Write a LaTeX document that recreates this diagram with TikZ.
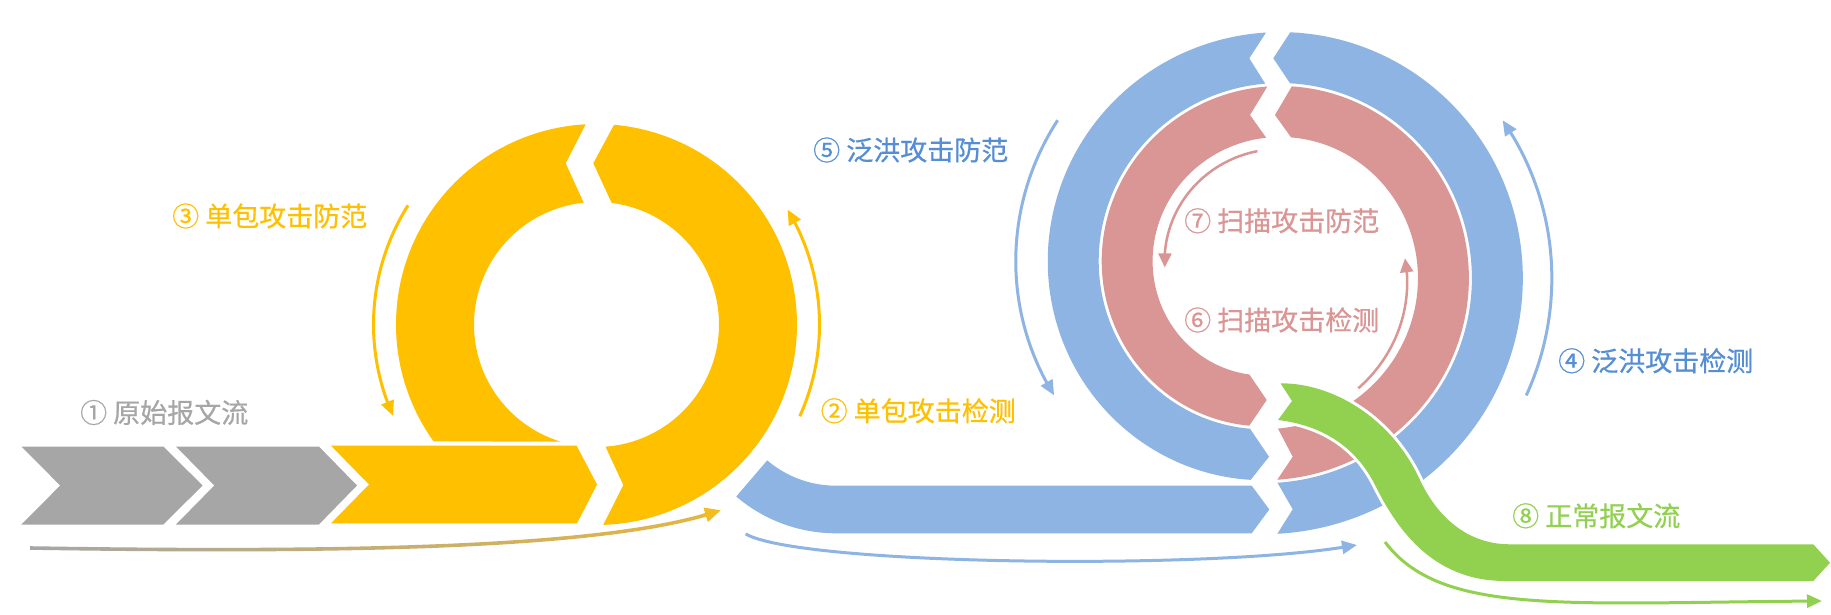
\documentclass[tikz,border=0pt]{standalone}
\usepackage{fontspec}
\newfontfamily\cjk{Noto Sans CJK SC}[FakeBold=0.6]
\usetikzlibrary{arrows.meta}
\definecolor{cgray}{HTML}{A6A6A6}
\definecolor{cyel}{HTML}{FFC000}
\definecolor{cblue}{HTML}{8EB4E3}
\definecolor{cbluetxt}{HTML}{558ED5}
\definecolor{cpink}{HTML}{D99694}
\definecolor{cgreen}{HTML}{92D050}
\definecolor{cgold}{HTML}{E3B640}
\definecolor{cmid}{HTML}{BFB08A}
\definecolor{ctip}{HTML}{F4BC1C}
% spiral: phi measured from bottom, counterclockwise on screen
\pgfmathdeclarefunction{spx}{2}{\pgfmathparse{1271.8+(264.4-0.15*(#1)+(#2))*sin(#1)}}
\pgfmathdeclarefunction{spy}{2}{\pgfmathparse{269.65+(264.4-0.15*(#1)+(#2))*cos(#1)}}
\tikzset{
  spl/.style={samples=120,domain=0:1,variable=\t},
  lab/.style={anchor=west,inner sep=0pt,font=\cjk\fontsize{27}{30}\selectfont},
  arr/.style={line width=3pt,-{Triangle[length=15pt,width=13pt]}},
  arrp/.style={line width=2.5pt,-{Triangle[length=14pt,width=13pt]}}
}
\begin{document}
\begin{tikzpicture}[x=1pt,y=-1pt]
\useasboundingbox (0,0) rectangle (1831,615);
\fill[white] (0,0) rectangle (1831,615);

% ---- gray chevrons and yellow bar
\fill[cgray] (21.4,446.5) -- (163.3,446.5) -- (202.6,485.5) -- (163.3,524.5) -- (21.4,524.5) -- (60.2,485.5) -- cycle;
\fill[cgray] (176,446.5) -- (318.9,446.5) -- (357,485.5) -- (318.9,524.5) -- (176,524.5) -- (214.3,485.5) -- cycle;
\fill[cyel] (331,445.7) -- (576.6,445.7) -- (597,484.5) -- (577,523.3) -- (331,523.3) -- (369,484.5) -- cycle;

% ---- yellow ring
\fill[cyel] plot[spl] ({596.5+200.5*cos(88.06-173.26*\t)},{324.5+200.5*sin(88.06-173.26*\t)})
  -- (593.3,163.3)
  -- plot[spl] ({596.5+122.5*cos(-82.9+168.9*\t)},{324.5+122.5*sin(-82.9+168.9*\t)})
  -- (623.3,485) -- cycle;
\fill[cyel] plot[spl] ({596.5+200.5*cos(-93.1-122.7*\t)},{324.5+200.5*sin(-93.1-122.7*\t)})
  -- plot[spl] ({596.5+122.5*cos(-253.1+157.3*\t)},{324.5+122.5*sin(-253.1+157.3*\t)})
  -- (565.7,163.3) -- cycle;

% ---- blue bar
\fill[cblue] plot[spl] ({836+153.6*cos(130.5-40.5*\t)},{379.7+153.6*sin(130.5-40.5*\t)})
  -- (1251.7,533.3) -- (1269.3,509.5) -- (1251.7,485.7)
  -- plot[spl] ({836+106*cos(90+40.5*\t)},{379.7+106*sin(90+40.5*\t)}) -- cycle;

% ---- blue spiral
\fill[cblue] plot[spl] ({spx(1.2+174.6*\t,0)},{spy(1.2+174.6*\t,0)})
  -- (1273.3,58.3)
  -- plot[spl] ({spx(174.4-173.1*\t,-51)},{spy(174.4-173.1*\t,-51)})
  -- (1292.7,509.3) -- cycle;
\fill[cblue] plot[spl] ({spx(181.4+173.1*\t,0)},{spy(181.4+173.1*\t,0)})
  -- (1269,456.7)
  -- plot[spl] ({spx(352.2-170.4*\t,-51)},{spy(352.2-170.4*\t,-51)})
  -- (1249.3,58.3) -- cycle;

% ---- pink spiral
\fill[cpink] plot[spl] ({spx(361.5+172.5*\t,0)},{spy(361.5+172.5*\t,0)})
  -- (1275,115)
  -- plot[spl] ({spx(531.7-169.7*\t,-51)},{spy(531.7-169.7*\t,-51)})
  -- (1292.7,456.7) -- cycle;
\fill[cpink] plot[spl] ({spx(541.4+170.6*\t,0)},{spy(541.4+170.6*\t,0)})
  -- (1266.7,400)
  -- plot[spl] ({spx(707.9-165.7*\t,-51)},{spy(707.9-165.7*\t,-51)})
  -- (1250,115) -- cycle;

% ---- green flow
\fill[cgreen,preaction={draw=white,line width=6pt,line join=round}]
  (1280.5,383.3) .. controls (1330,383) and (1390,415) .. (1420,480)
  .. controls (1434,510) and (1462,544.3) .. (1510,544.3)
  -- (1813.3,544.3) -- (1830,562.7) -- (1813.3,581) -- (1505,581)
  .. controls (1430,581) and (1395,525) .. (1375,485)
  .. controls (1355,445) and (1320,425) .. (1278,420)
  -- (1292,401) -- cycle;

% ---- thin arrows
\shade[left color=cgray,middle color=cmid,right color=cgold]
  (30,546.2) .. controls (350,551.2) and (600,546.2) .. (711.5,511.3)
  -- (712.5,514.7) .. controls (600,549.8) and (350,554.8) .. (30,549.8) -- cycle;
\draw[ctip,line width=3.5pt,-{Triangle[length=16pt,width=14pt]}] (703,515.6) -- (721,510.2);

\draw[cblue,arr] (745.7,534) .. controls (800,565) and (1200,570) .. (1357,545);
\draw[cgreen,arr] (1385,542) .. controls (1440,615) and (1560,603) .. (1822,601);

\draw[cyel,arr] plot[spl] ({596.5+223*cos(212.3-52.3*\t)},{324.5+223*sin(212.3-52.3*\t)})
  -- ({596.5+223*cos(155.8)},{324.5+223*sin(155.8)});
\draw[cyel,arr] plot[spl] ({596.5+223*cos(24.3-51.2*\t)},{324.5+223*sin(24.3-51.2*\t)})
  -- ({596.5+223*cos(-31)},{324.5+223*sin(-31)});

\draw[cblue,arr] plot[spl] ({spx(235.1+60.9*\t,32)},{spy(235.1+60.9*\t,32)})
  -- ({spx(300,32)},{spy(300,32)});
\draw[cblue,arr] plot[spl] ({spx(63.7+55.2*\t,29)},{spy(63.7+55.2*\t,29)})
  -- ({spx(122.9,29)},{spy(122.9,29)});

\draw[cpink,arrp] plot[spl] ({spx(546.9+73.6*\t,-63)},{spy(546.9+73.6*\t,-63)})
  -- ({spx(628.8,-63)},{spy(628.8,-63)});
\draw[cpink,arrp] plot[spl] ({1271.8+(146.8-0.2228*52*\t)*sin(396.1+52*\t)},{269.65+(146.8-0.2228*52*\t)*cos(396.1+52*\t)})
  -- (1405,258.3);

% ---- labels
\node[lab,text=cgray] (t1) at (80,412.5) {① 原始报文流};
\node[lab,text=cyel] (t3) at (172,216) {③ 单包攻击防范};
\node[lab,text=cyel] (t2) at (820.5,410.8) {② 单包攻击检测};
\node[lab,text=cbluetxt] (t5) at (813,150) {⑤ 泛洪攻击防范};
\node[lab,text=cbluetxt] (t4) at (1558,360.8) {④ 泛洪攻击检测};
\node[lab,text=cpink] (t7) at (1184,220.8) {⑦ 扫描攻击防范};
\node[lab,text=cpink] (t6) at (1184,320) {⑥ 扫描攻击检测};
\node[lab,text=cgreen] (t8) at (1512,515.8) {⑧ 正常报文流};
\end{tikzpicture}
\end{document}
